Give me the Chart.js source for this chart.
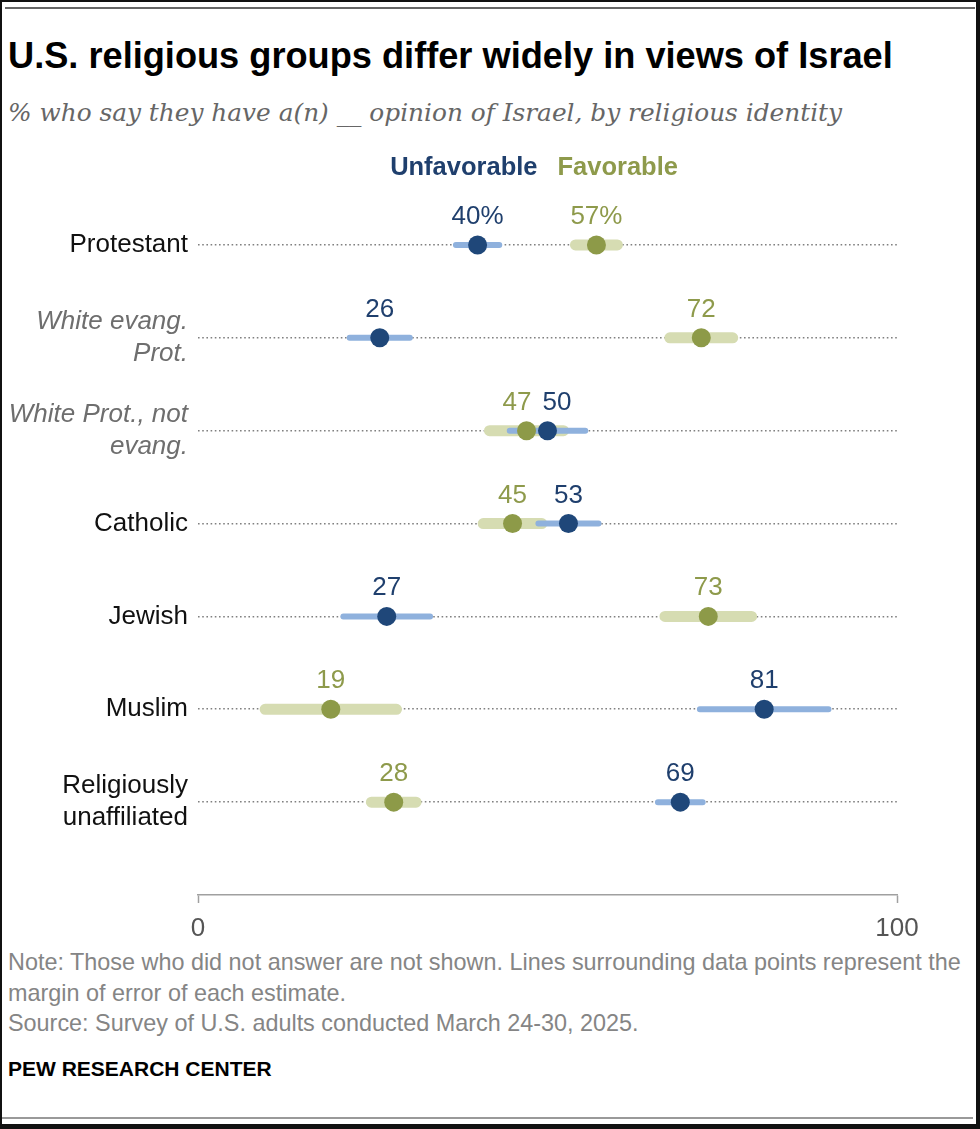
<!DOCTYPE html>
<html lang="en">
<head>
<meta charset="UTF-8">
<title>U.S. religious groups differ widely in views of Israel</title>
<script src="https://cdn.jsdelivr.net/npm/chart.js"></script>
<style>
  body { margin: 0; background: #fff; }
  #page { position: relative; width: 980px; height: 1129px; overflow: hidden; background: #fff;
          font-family: "Liberation Sans", Arial, sans-serif; }
  #frame { position: absolute; left: 0; top: 0; width: 980px; height: 1129px; box-sizing: border-box;
           border-style: solid; border-color: #111; border-width: 2px 4px 5px 2px; pointer-events: none; }
  .rule { position: absolute; height: 2px; }
  #title { position: absolute; left: 8px; top: 38px; font-size: 36.2px; line-height: 36px; font-weight: bold;
           color: #000; white-space: nowrap; }
  #subtitle { position: absolute; left: 8px; top: 100px; font-family: "DejaVu Serif", serif; font-style: italic;
              font-size: 24.8px; line-height: 26px; color: #666; white-space: nowrap; }
  #chartBox { position: absolute; left: 0; top: 140px; width: 980px; height: 805px; }
  #notes { position: absolute; left: 8px; top: 947px; font-size: 23.4px; line-height: 30.5px; color: #858585;
           white-space: nowrap; }
  #credit { position: absolute; left: 8px; top: 1054px; font-size: 21px; line-height: 30.5px; font-weight: bold;
            color: #000; white-space: nowrap; }
</style>
</head>
<body>
<div id="page">
  <div class="rule" style="left:5px; top:7px; width:970px; background:#666;"></div>
  <div id="title">U.S. religious groups differ widely in views of Israel</div>
  <div id="subtitle">% who say they have a(n) __ opinion of Israel, by religious identity</div>
  <div id="chartBox"><canvas id="dotChart" width="980" height="805"></canvas></div>
  <div id="notes">Note: Those who did not answer are not shown. Lines surrounding data points represent the<br>margin of error of each estimate.<br>Source: Survey of U.S. adults conducted March 24-30, 2025.</div>
  <div id="credit">PEW RESEARCH CENTER</div>
  <div class="rule" style="left:0; top:1117px; width:973px; background:#999;"></div>
  <div id="frame"></div>
</div>

<script>
const categories = [
  ['Protestant'],
  ['White evang.', 'Prot.'],
  ['White Prot., not', 'evang.'],
  ['Catholic'],
  ['Jewish'],
  ['Muslim'],
  ['Religiously', 'unaffiliated']
];
const subgroupRows = [1, 2];           // shown in grey italics
const unfavorable = [40, 26, 50, 53, 27, 81, 69];
const favorable = [57, 72, 47, 45, 73, 19, 28];
const unfavorableMoe = [3.1, 4.3, 5.4, 4.3, 6.2, 9.2, 3.2];
const favorableMoe = [3.0, 4.5, 5.3, 4.2, 6.2, 9.4, 3.2];
const xTicks = [0, 100];

const NAVY = '#1f4779';
const NAVY_TEXT = '#1f3f6d';
const LIGHT_BLUE = '#8fb1dd';
const OLIVE = '#8d9a48';
const OLIVE_TEXT = '#8e9a4b';
const LIGHT_OLIVE = '#d6dcb2';
const FONT = '"Liberation Sans", Arial, sans-serif';

function marginSegments(values, moe) {
  const pts = [];
  values.forEach((v, i) => {
    pts.push({ x: v - moe[i], y: i }, { x: v + moe[i], y: i }, { x: null, y: null });
  });
  return pts;
}

function dots(values) {
  return values.map((v, i) => ({ x: v, y: i }));
}

// value labels above each dot, pushed apart when two sit too close
const valueLabels = {
  id: 'valueLabels',
  afterDatasetsDraw(chart) {
    const ctx = chart.ctx;
    const unfavMeta = chart.getDatasetMeta(3);
    const favMeta = chart.getDatasetMeta(2);
    ctx.save();
    ctx.font = '26px ' + FONT;
    ctx.textAlign = 'center';
    ctx.textBaseline = 'alphabetic';
    categories.forEach((c, i) => {
      const u = unfavMeta.data[i];
      const f = favMeta.data[i];
      let ux = u.x, fx = f.x;
      const gap = 40;
      if (Math.abs(ux - fx) < gap) {
        const mid = (ux + fx) / 2;
        const sign = ux > fx ? 1 : -1;
        ux = mid + sign * gap / 2;
        fx = mid - sign * gap / 2;
      }
      const suffix = i === 0 ? '%' : '';
      ctx.fillStyle = NAVY_TEXT;
      ctx.fillText(unfavorable[i] + suffix, ux, u.y - 21);
      ctx.fillStyle = OLIVE_TEXT;
      ctx.fillText(favorable[i] + suffix, fx, f.y - 21);
    });
    ctx.restore();
  }
};

// "Unfavorable  Favorable" key over the middle of the plot
const keyLabels = {
  id: 'keyLabels',
  afterDraw(chart) {
    const ctx = chart.ctx;
    const mid = (chart.chartArea.left + chart.chartArea.right) / 2;
    ctx.save();
    ctx.font = 'bold 25.5px ' + FONT;
    ctx.textBaseline = 'alphabetic';
    ctx.textAlign = 'right';
    ctx.fillStyle = NAVY_TEXT;
    ctx.fillText('Unfavorable', mid - 10, 35);
    ctx.textAlign = 'left';
    ctx.fillStyle = OLIVE_TEXT;
    ctx.fillText('Favorable', mid + 10, 35);
    ctx.restore();
  }
};

new Chart(document.getElementById('dotChart'), {
  type: 'scatter',
  data: {
    datasets: [
      {
        label: 'Favorable margin',
        data: marginSegments(favorable, favorableMoe),
        showLine: true,
        borderColor: LIGHT_OLIVE,
        borderWidth: 11,
        borderCapStyle: 'round',
        pointRadius: 0,
        pointHoverRadius: 0,
        order: 4
      },
      {
        label: 'Unfavorable margin',
        data: marginSegments(unfavorable, unfavorableMoe),
        showLine: true,
        borderColor: LIGHT_BLUE,
        borderWidth: 6,
        borderCapStyle: 'round',
        pointRadius: 0,
        pointHoverRadius: 0,
        order: 3
      },
      {
        label: 'Favorable',
        data: dots(favorable),
        backgroundColor: OLIVE,
        borderWidth: 0,
        pointRadius: 9.5,
        pointHoverRadius: 9.5,
        order: 2
      },
      {
        label: 'Unfavorable',
        data: dots(unfavorable),
        backgroundColor: NAVY,
        borderWidth: 0,
        pointRadius: 9.5,
        pointHoverRadius: 9.5,
        order: 1
      }
    ]
  },
  options: {
    responsive: false,
    animation: false,
    events: [],
    layout: { padding: { top: 58.5, right: 83, bottom: 0, left: 0 } },
    plugins: {
      legend: { display: false },
      tooltip: { enabled: false }
    },
    scales: {
      x: {
        type: 'linear',
        position: 'bottom',
        min: 0,
        max: 100,
        afterBuildTicks: (scale) => { scale.ticks = xTicks.map(v => ({ value: v })); },
        afterFit: (scale) => { scale.height = 50; },
        grid: {
          drawOnChartArea: false,
          drawTicks: true,
          tickLength: 8,
          tickColor: '#a0a0a0',
          tickWidth: 1.5
        },
        border: { display: true, color: '#a0a0a0', width: 1.5 },
        ticks: {
          color: '#555',
          font: { family: FONT, size: 26 },
          padding: 10,
          maxRotation: 0
        }
      },
      y: {
        type: 'linear',
        reverse: true,
        min: -0.5,
        max: 7,
        afterBuildTicks: (scale) => { scale.ticks = categories.map((c, i) => ({ value: i })); },
        afterFit: (scale) => { scale.width = 198; },
        grid: {
          drawOnChartArea: true,
          drawTicks: false,
          color: '#808080',
          lineWidth: 1.6
        },
        border: { display: false, dash: [1.6, 2.6] },
        ticks: {
          padding: 10,
          callback: (value) => categories[value],
          color: (ctx) => subgroupRows.includes(ctx.index) ? '#6e6e6e' : '#111',
          font: (ctx) => ({
            family: FONT,
            size: 26,
            style: subgroupRows.includes(ctx.index) ? 'italic' : 'normal',
            lineHeight: 1.23
          })
        }
      }
    }
  },
  plugins: [valueLabels, keyLabels]
});
</script>
</body>
</html>
